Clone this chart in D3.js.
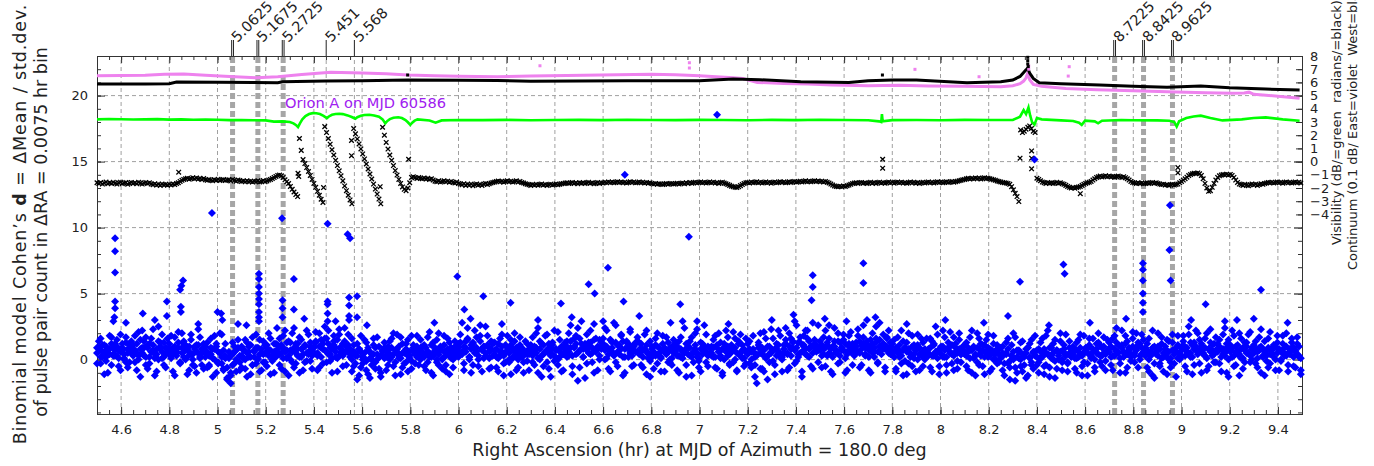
<!DOCTYPE html>
<html><head><meta charset="utf-8">
<script src="https://cdn.jsdelivr.net/npm/d3@7"></script>
<style>
html,body{margin:0;padding:0;background:#fff;}
svg{display:block;font-family:"DejaVu Sans",sans-serif;}
.ax .domain{stroke:#333;}
.ax line{stroke:#333;}
.ax text{fill:#222;font-size:13px;font-family:"DejaVu Sans",sans-serif;}
</style></head><body>
<svg id="chart" width="1374" height="466"></svg>
<script>
// ---- bins: RA = raStart + i * raStep ----
const raStart = 4.5, raStep = 0.0075;

// ---- axis ticks ----
const raTicks = [4.6,4.8,5,5.2,5.4,5.6,5.8,6,6.2,6.4,6.6,6.8,7,7.2,7.4,7.6,7.8,8,8.2,8.4,8.6,8.8,9,9.2,9.4];
const dTicks = [0,5,10,15,20];
const rightTicks = [-4,-3,-2,-1,0,1,2,3,4,5,6,7,8];

// ---- marked RA positions ----
const markRA = [5.0625,5.1675,5.2725,5.451,5.568,8.7225,8.8425,8.9625];
const markLabels = ["5.0625","5.1675","5.2725","5.451","5.568","8.7225","8.8425","8.9625"];
const binMarkRA = [5.0625,5.1675,5.2725,8.7225,8.8425,8.9625];

// ---- continuum (0.1 dB), East = violet ----
const eastRA = [4.5,4.6,4.7,4.78,4.86,4.95,5.05,5.16,5.25,5.35,5.47,5.6,5.7,5.79,5.9,6.0,6.16,6.3,6.45,6.59,6.8,6.9,7.0,7.07,7.14,7.18,7.24,7.35,7.45,7.55,7.7,7.83,7.95,8.1,8.25,8.3,8.33,8.345,8.355,8.362,8.37,8.385,8.42,8.52,8.65,8.8,8.94,9.1,9.21,9.26,9.28,9.3,9.4,9.49];
const eastCont = [6.5,6.52,6.55,6.62,6.63,6.55,6.45,6.35,6.42,6.6,6.76,6.72,6.65,6.56,6.5,6.47,6.43,6.48,6.52,6.56,6.61,6.58,6.5,6.42,6.35,6.3,6.0,5.92,5.88,5.8,5.74,5.78,5.72,5.7,5.68,5.75,5.9,6.1,6.35,6.7,6.2,5.85,5.7,5.54,5.45,5.36,5.29,5.22,5.17,5.2,5.26,5.1,4.95,4.8];
const eastDotRA = [6.338,6.958,6.958,7.894,8.16,8.534,8.53,8.366,8.366];
const eastDotVal = [7.26,7.49,7.09,6.99,6.43,7.19,6.48,7.25,7.0];

// ---- continuum (0.1 dB), West = black ----
const westRA = [4.5,4.7,4.8,4.83,5.0,5.15,5.25,5.27,5.45,5.6,5.79,6.0,6.16,6.3,6.5,6.7,7.0,7.14,7.25,7.42,7.62,7.7,7.8,7.9,8.11,8.25,8.3,8.33,8.345,8.355,8.362,8.37,8.385,8.41,8.5,8.66,8.8,8.94,9.08,9.2,9.35,9.49];
const westCont = [5.88,5.88,5.9,6.03,6.02,6.0,5.98,6.05,6.1,6.12,6.18,6.16,6.15,6.08,6.1,6.12,6.13,6.25,6.2,6.05,6.0,6.12,6.18,6.18,5.98,6.05,6.18,6.45,6.75,6.95,7.1,6.7,6.3,5.98,5.9,5.8,5.7,5.63,5.73,5.6,5.5,5.42];
const westDotRA = [5.789,7.759,8.362,8.362,8.362,8.364];
const westDotVal = [6.56,6.56,7.9,7.65,7.4,7.2];

// ---- visibility amplitude (dB), green ----
const visRA = [4.5,4.55,4.6,4.65,4.7,4.75,4.8,4.85,4.9,4.95,5.0,5.05,5.1,5.15,5.2,5.234,5.27,5.3,5.315,5.325,5.334,5.342,5.352,5.365,5.38,5.395,5.41,5.425,5.44,5.454,5.462,5.475,5.49,5.505,5.52,5.54,5.557,5.572,5.58,5.595,5.61,5.63,5.65,5.67,5.685,5.696,5.703,5.715,5.73,5.75,5.765,5.78,5.79,5.8,5.808,5.818,5.83,5.88,5.905,5.93,6.0,6.1,6.2,6.3,6.4,6.5,6.6,6.7,6.8,6.9,7.0,7.1,7.2,7.3,7.4,7.5,7.6,7.7,7.745,7.754,7.757,7.76,7.8,7.9,8.0,8.1,8.2,8.3,8.33,8.345,8.355,8.365,8.372,8.38,8.39,8.4,8.42,8.5,8.55,8.575,8.586,8.6,8.64,8.654,8.67,8.75,8.8,8.9,8.95,8.97,8.98,8.99,9.02,9.05,9.08,9.12,9.17,9.25,9.3,9.35,9.42,9.49];
const visDB = [3.2,3.23,3.21,3.19,3.2,3.22,3.18,3.2,3.17,3.19,3.17,3.14,3.15,3.13,3.12,3.03,3.05,3.0,2.9,2.78,2.62,2.9,3.2,3.45,3.6,3.67,3.66,3.6,3.47,3.3,3.42,3.55,3.61,3.63,3.6,3.5,3.38,3.25,3.36,3.47,3.53,3.55,3.5,3.4,3.2,2.9,3.05,3.22,3.32,3.36,3.3,3.15,2.98,2.78,2.95,3.1,3.2,3.12,2.95,3.12,3.15,3.14,3.16,3.13,3.15,3.16,3.14,3.17,3.15,3.14,3.16,3.15,3.13,3.16,3.14,3.17,3.15,3.13,3.05,3.0,3.6,3.05,3.14,3.15,3.13,3.16,3.15,3.15,3.4,3.9,3.6,4.1,3.5,3.0,2.8,3.3,3.2,3.12,3.08,2.95,2.78,3.1,3.05,2.9,3.1,3.15,3.13,3.12,3.1,3.0,2.65,3.05,3.3,3.42,3.48,3.3,3.12,3.2,3.3,3.35,3.2,3.1];

// ---- visibility phase (radians) per bin, black ----
const phaseRad = [
-1.6,-1.65,-1.58,-1.7,-1.62,-1.55,-1.68,-1.6,-1.66,-1.57,-1.64,-1.7,-1.6,-1.56,-1.67,-1.62,-1.59,-1.71,-1.63,-1.58,
-1.65,-1.6,-1.68,-1.57,-1.63,-1.7,-1.62,-1.58,-1.66,-1.61,-1.7,-1.75,-1.68,-1.78,-1.72,-1.8,-1.7,-1.76,-1.73,-1.79,
-1.71,-1.77,-1.69,-1.74,-1.66,-1.6,-1.5,-1.42,-1.35,-1.3,-1.26,-1.33,-1.28,-1.22,-1.3,-1.25,-1.32,-1.27,-1.35,-1.29,
-1.38,-1.42,-1.36,-1.4,-1.45,-1.37,-1.41,-1.34,-1.43,-1.39,-1.36,-1.44,-1.4,-1.38,-1.46,-1.35,-1.42,-1.48,-1.4,-1.44,
-1.5,-1.47,-1.53,-1.45,-1.52,-1.49,-1.55,-1.48,-1.51,-1.46,-1.54,-1.5,-1.44,-1.52,-1.47,-1.4,-1.35,-1.28,-1.2,-1.12,
-1.05,-1.02,-1.08,-1.2,-1.38,-1.52,-1.66,-1.88,-2.1,-2.3,-2.5,-2.65,1.75,0.85,0.15,-0.15,-0.45,-0.75,-1.05,-1.35,
-1.65,-1.95,-2.25,-2.55,-2.85,-3.1,2.65,2.2,1.75,1.32,0.9,0.5,0.1,-0.3,-0.7,-1.08,-1.46,-1.84,-2.2,-2.55,
-2.9,-3.2,2.5,2.1,1.72,1.34,0.96,0.58,0.2,-0.18,-0.56,-0.94,-1.32,-1.7,-2.08,-2.46,-2.84,-3.2,2.6,2.0,
1.45,0.95,0.5,0.1,-0.3,-0.68,-1.02,-1.35,-1.65,-1.92,-2.1,-2.2,-2.0,-1.6,-1.2,-1.15,-1.22,-1.28,-1.2,-1.26,
-1.3,-1.24,-1.32,-1.27,-1.35,-1.3,-1.4,-1.48,-1.52,-1.46,-1.55,-1.5,-1.45,-1.53,-1.48,-1.56,-1.5,-1.58,-1.62,-1.55,
-1.65,-1.7,-1.76,-1.68,-1.8,-1.72,-1.78,-1.7,-1.82,-1.75,-1.69,-1.77,-1.73,-1.8,-1.7,-1.66,-1.74,-1.68,-1.62,-1.58,
-1.55,-1.5,-1.47,-1.53,-1.49,-1.56,-1.5,-1.45,-1.52,-1.48,-1.55,-1.51,-1.46,-1.54,-1.5,-1.58,-1.62,-1.68,-1.72,-1.76,
-1.8,-1.74,-1.78,-1.72,-1.79,-1.75,-1.7,-1.77,-1.73,-1.8,-1.76,-1.71,-1.78,-1.74,-1.69,-1.76,-1.72,-1.68,-1.65,-1.62,
-1.6,-1.66,-1.62,-1.58,-1.65,-1.61,-1.67,-1.6,-1.64,-1.59,-1.66,-1.62,-1.57,-1.64,-1.6,-1.68,-1.63,-1.58,-1.65,-1.6,
-1.62,-1.56,-1.6,-1.55,-1.59,-1.54,-1.6,-1.57,-1.52,-1.58,-1.55,-1.6,-1.56,-1.62,-1.57,-1.53,-1.59,-1.55,-1.61,-1.58,
-1.54,-1.6,-1.56,-1.62,-1.58,-1.64,-1.6,-1.66,-1.7,-1.65,-1.72,-1.68,-1.7,-1.74,-1.69,-1.66,-1.72,-1.68,-1.65,-1.7,
-1.67,-1.64,-1.7,-1.66,-1.62,-1.68,-1.6,-1.65,-1.58,-1.63,-1.6,-1.56,-1.62,-1.58,-1.55,-1.6,-1.57,-1.62,-1.58,-1.54,
-1.6,-1.56,-1.62,-1.58,-1.65,-1.6,-1.56,-1.63,-1.68,-1.74,-1.8,-1.86,-1.9,-1.94,-1.96,-1.9,-1.82,-1.74,-1.66,-1.6,
-1.58,-1.62,-1.55,-1.6,-1.57,-1.53,-1.6,-1.56,-1.62,-1.58,-1.54,-1.6,-1.57,-1.63,-1.59,-1.55,-1.61,-1.57,-1.52,-1.58,
-1.55,-1.6,-1.56,-1.52,-1.58,-1.54,-1.5,-1.56,-1.52,-1.48,-1.54,-1.5,-1.46,-1.52,-1.48,-1.53,-1.49,-1.45,-1.51,-1.47,
-1.52,-1.48,-1.54,-1.5,-1.56,-1.62,-1.7,-1.78,-1.84,-1.88,-1.9,-1.86,-1.9,-1.85,-1.88,-1.83,-1.78,-1.72,-1.66,-1.62,
-1.6,-1.65,-1.61,-1.58,-1.64,-1.6,-1.66,-1.62,-1.57,-1.63,-1.59,-1.65,-1.6,-1.56,-1.62,-1.58,-1.64,-1.6,-1.55,-1.61,
-1.57,-1.63,-1.59,-1.55,-1.6,-1.56,-1.62,-1.58,-1.64,-1.6,-1.55,-1.61,-1.57,-1.63,-1.59,-1.65,-1.6,-1.56,-1.62,-1.58,
-1.54,-1.6,-1.56,-1.62,-1.57,-1.53,-1.59,-1.55,-1.6,-1.56,-1.52,-1.58,-1.54,-1.5,-1.56,-1.52,-1.48,-1.45,-1.42,-1.38,
-1.35,-1.3,-1.27,-1.32,-1.26,-1.3,-1.24,-1.29,-1.25,-1.31,-1.27,-1.23,-1.29,-1.26,-1.3,-1.34,-1.38,-1.42,-1.47,-1.5,
-1.54,-1.58,-1.6,-1.62,-1.66,-1.72,-1.9,-2.14,-2.4,-2.65,-3.03,2.4,2.2,2.3,2.45,2.6,2.7,2.5,2.3,2.2,
-1.26,-1.35,-1.45,-1.55,-1.6,-1.65,-1.58,-1.63,-1.6,-1.66,-1.62,-1.57,-1.64,-1.6,-1.68,-1.72,-1.8,-1.88,-1.95,-2.0,
-1.96,-2.02,-1.97,-1.93,-1.88,-1.8,-1.72,-1.65,-1.6,-1.56,-1.5,-1.4,-1.3,-1.2,-1.15,-1.1,-1.16,-1.12,-1.08,-1.14,
-1.1,-1.15,-1.12,-1.18,-1.13,-1.1,-1.16,-1.2,-1.14,-1.22,-1.3,-1.4,-1.5,-1.58,-1.62,-1.66,-1.6,-1.65,-1.62,-1.68,
-1.63,-1.6,-1.66,-1.62,-1.58,-1.64,-1.6,-1.66,-1.7,-1.74,-1.72,-1.78,-1.75,-1.8,-1.76,-1.72,-1.78,-1.74,-1.7,-1.6,
-1.5,-1.4,-1.3,-1.18,-1.06,-0.98,-0.92,-0.88,-0.9,-0.86,-0.92,-1.05,-1.3,-1.65,-2.0,-2.25,-2.2,-1.95,-1.65,-1.4,
-1.2,-1.08,-1.02,-0.98,-1.0,-0.95,-1.02,-0.97,-1.05,-1.2,-1.4,-1.58,-1.7,-1.75,-1.8,-1.72,-1.78,-1.82,-1.75,-1.7,
-1.76,-1.72,-1.8,-1.74,-1.68,-1.72,-1.66,-1.62,-1.58,-1.6,-1.56,-1.62,-1.58,-1.55,-1.6,-1.57,-1.63,-1.59,-1.55,-1.61,
-1.57,-1.62,-1.58,-1.54,-1.6,-1.56,-1.62];
const phaseExtraRA = [4.839,5.334,5.337,5.44,5.556,5.556,5.675,5.793,7.76,7.76,8.33,8.378,8.378,8.378,8.58,8.985,8.985];
const phaseExtraRad = [-0.8,-0.88,-1.13,-1.97,1.6,0.45,-1.9,0.18,0.18,-0.5,0.26,0.81,0.26,-0.55,-2.43,-0.45,-0.85];

// ---- Cohen's d per bin (three pulse-pair sets), blue ----
const cohenD1 = [
0.9,1.4,-0.3,0.6,1.1,0.2,-1.0,0.8,1.7,0.4,1.2,0.3,-0.5,1.9,0.7,0.1,1.3,0.5,-0.2,1.0,
0.6,1.8,-0.8,0.3,1.5,2.2,0.9,-0.4,1.1,0.2,1.6,0.7,-1.2,0.4,2.5,1.0,0.1,1.3,-0.6,0.8,
1.2,0.3,-0.9,1.7,0.5,2.1,-0.2,0.9,1.4,0.0,-1.1,0.6,1.9,0.4,-0.5,1.1,2.3,0.2,0.8,-0.7,
0.5,1.3,-0.4,0.9,0.1,1.8,-1.0,0.6,2.0,-0.3,0.7,1.2,-1.4,0.2,-1.8,0.4,1.0,-0.9,2.7,0.3,
-0.6,0.8,1.5,-1.3,0.2,1.1,-0.4,0.7,1.9,0.0,-0.9,0.5,1.4,-0.2,0.9,2.0,-1.1,0.3,1.2,0.6,
0.4,1.6,-0.7,0.9,2.2,0.1,-1.2,1.3,0.6,2.4,-0.3,0.8,1.7,0.2,-0.8,1.1,0.5,1.9,-0.1,0.7,
1.0,2.1,0.3,-0.6,1.5,0.8,2.5,-0.2,1.2,0.4,-1.0,1.8,0.9,0.1,2.3,0.6,-0.5,1.4,0.7,1.9,
0.2,-0.9,1.1,0.5,-1.5,0.8,1.8,-0.3,0.1,1.3,-1.1,0.6,0.0,1.6,-0.7,0.4,1.0,-1.3,0.3,0.9,
0.6,-0.4,1.4,0.2,2.0,-1.2,0.8,0.3,1.7,-0.6,0.5,1.2,-0.9,0.1,1.8,0.7,-0.3,1.0,0.4,1.5,
0.3,1.1,-0.8,0.6,2.1,0.2,-1.2,0.9,1.5,-0.4,0.7,0.0,1.8,-0.9,0.5,1.3,0.1,-0.6,1.0,0.4,
1.2,0.5,2.8,-0.3,0.9,1.6,0.2,-1.0,1.3,2.2,0.6,-0.5,1.8,0.8,0.1,2.5,1.0,-0.7,1.4,0.3,
0.7,-0.6,1.2,0.3,1.9,-1.2,0.5,0.9,-0.2,1.5,0.1,2.0,-0.8,0.6,1.1,0.2,-1.0,1.4,0.4,0.8,
0.5,1.7,-0.4,0.9,2.4,0.0,-1.3,1.1,0.6,1.9,-0.7,0.3,1.3,-0.1,0.8,2.1,0.2,-0.9,1.0,0.6,
1.4,0.3,2.6,-0.5,1.0,1.8,-1.6,0.7,2.9,0.2,1.2,-0.3,0.9,2.2,0.5,-1.0,1.6,0.8,0.0,1.3,
0.9,2.4,0.1,-0.7,1.5,0.6,2.8,-0.2,1.1,0.4,1.9,-1.2,0.8,1.3,0.2,2.1,-0.5,1.0,0.6,1.7,
0.4,1.2,-0.6,0.8,2.2,0.1,-1.3,1.0,0.5,1.6,-0.3,0.9,0.2,1.8,-0.9,0.6,1.3,0.0,-0.4,1.1,
0.7,-0.8,1.4,0.2,2.9,0.5,-1.3,1.0,0.3,1.7,-0.2,0.8,2.3,0.1,-0.9,1.2,0.6,1.9,-0.5,0.4,
1.0,0.2,1.8,-0.7,0.6,1.3,-1.2,0.9,2.2,0.3,-0.4,1.1,0.7,1.6,-0.9,0.4,1.9,0.1,0.8,-0.3,
0.5,1.4,-0.6,0.8,0.2,-1.8,1.1,2.0,0.4,-0.9,1.6,0.3,-0.2,2.3,0.7,-1.1,1.2,0.5,1.8,0.0,
1.1,2.4,0.4,-0.6,1.6,0.9,2.9,-0.1,1.3,0.5,-1.3,1.8,0.8,2.2,0.2,1.0,-0.7,1.5,0.6,2.6,
0.9,0.3,1.7,-0.5,1.1,2.6,0.4,-1.1,1.4,0.7,2.0,-0.2,0.9,1.5,0.1,-0.8,1.8,0.6,1.2,0.3,
1.3,2.3,0.5,-0.4,1.7,0.9,3.0,0.2,-1.0,1.2,0.6,2.5,-0.3,1.5,0.8,1.9,-0.6,1.0,2.2,0.4,
0.6,1.5,-0.7,0.8,0.2,2.2,-1.2,0.9,1.3,-0.3,0.5,1.8,0.1,-0.9,1.1,0.4,1.6,-0.5,0.7,0.3,
0.8,-0.6,1.4,0.3,2.5,0.6,-1.1,1.0,0.2,1.7,-0.4,0.9,2.1,0.4,-0.8,1.2,0.5,1.5,-0.2,0.7,
0.4,1.3,-0.8,0.7,2.2,0.1,-1.2,0.9,1.6,0.3,-0.5,1.1,0.6,1.9,-0.9,0.5,1.2,0.0,-0.3,0.8,
0.2,1.0,-1.2,0.5,1.6,-0.6,0.3,2.0,-1.6,0.7,0.1,1.3,-0.9,0.4,-1.4,0.9,0.2,1.5,-0.7,0.6,
-0.4,0.8,0.1,1.6,-1.1,0.5,2.2,-0.6,0.3,1.2,-1.4,0.7,0.0,1.4,-0.8,0.5,1.9,-0.2,0.9,0.3,
0.6,-0.7,1.3,0.2,1.9,-1.2,0.5,0.9,-0.3,1.6,0.1,0.8,-0.9,1.2,2.0,0.3,-0.5,1.0,0.4,1.5,
0.8,-0.4,1.6,0.3,2.4,0.6,-1.0,1.1,0.2,1.8,-0.6,0.9,0.4,2.1,-0.2,0.7,1.3,0.0,1.9,0.5,
0.3,1.2,-0.9,0.6,2.2,-1.4,0.4,1.0,-0.5,1.7,0.2,0.8,-1.1,1.4,0.1,1.9,-0.3,0.6,1.1,0.0,
0.9,1.8,-0.5,0.6,2.5,0.2,-1.1,1.3,0.7,2.0,-0.3,1.0,0.4,1.6,-0.8,0.8,2.3,0.3,1.2,-0.2,
0.7,1.5,-0.9,0.4,2.4,0.9,-1.3,1.1,0.2,1.8,-0.4,0.6,2.0,0.1,-0.7,1.3,0.5,1.9,-0.2,0.8,
0.5,1.4,-0.6,0.9,2.3,0.2,-1.2,0.7,1.6,-0.3,0.4,1.1,0.0,1.8,-0.8,0.6,1.2,0.3,2.0,-0.4,
0.8,1.3,-0.5,0.6,1.7,0.2,-1.1];
const cohenD2 = [
-0.3,0.8,1.6,0.2,-1.1,1.0,0.5,1.8,-0.4,0.9,0.3,1.5,0.7,-0.8,1.2,0.0,1.7,-0.6,0.6,1.4,
1.1,-0.2,0.5,2.1,-1.3,0.9,0.3,1.7,-0.7,1.2,0.6,2.3,0.1,-0.9,1.4,0.8,1.9,-0.4,0.5,1.6,
0.4,1.8,0.9,-1.2,0.6,1.3,-0.3,2.0,0.2,1.1,0.7,-0.8,1.5,0.0,1.0,-1.0,0.5,1.7,-0.4,1.2,
1.0,-0.6,0.3,1.6,-1.3,0.8,1.2,-0.2,0.5,1.9,-0.7,0.1,-1.5,0.6,-1.0,1.3,-0.3,0.7,1.5,-0.8,
1.0,0.1,-0.7,1.3,0.6,-1.1,1.7,0.2,-0.3,0.9,1.5,-0.8,0.4,1.1,-0.5,0.7,1.6,0.0,-1.0,1.2,
1.1,-0.4,0.5,1.8,-0.9,0.7,1.4,0.0,2.0,-0.6,1.2,0.3,-1.0,1.5,0.9,-0.2,2.2,0.4,1.0,-0.7,
0.5,1.3,-0.8,2.0,0.9,-0.3,1.6,0.6,2.2,-0.1,0.8,1.4,0.2,-0.9,1.9,1.0,0.3,2.4,-0.4,1.1,
0.8,1.6,-0.5,0.3,1.2,-1.2,0.6,0.0,1.5,-0.8,0.9,-1.4,0.4,1.1,-0.2,1.7,0.2,-1.0,0.7,1.3,
-0.8,1.0,0.4,1.6,-0.5,0.7,1.9,0.1,-1.1,1.2,0.6,-0.2,1.5,0.3,-0.7,1.1,0.5,1.8,-0.4,0.9,
1.0,-0.5,0.4,1.7,0.2,-1.0,1.3,0.6,-0.2,2.0,0.8,-0.7,1.1,0.3,1.6,-1.1,0.7,0.0,1.4,0.5,
0.2,1.9,0.6,-0.8,1.4,2.4,0.0,1.1,-0.4,0.8,1.7,0.3,2.6,-0.9,1.0,0.5,1.8,0.1,-0.6,1.3,
1.3,0.2,-0.9,1.6,0.6,-0.3,1.1,1.8,0.0,-1.1,0.8,1.4,0.3,-0.6,1.7,0.9,-0.2,0.5,1.2,-0.8,
1.1,-0.2,0.7,2.0,-1.0,1.4,0.3,-0.5,1.8,0.6,1.2,-1.3,0.8,2.2,0.1,-0.4,1.5,0.9,-0.8,1.3,
0.2,2.0,0.9,-1.1,1.6,0.4,2.4,-0.6,1.2,0.8,-1.4,1.9,0.5,1.3,-0.2,2.7,0.7,-0.8,1.5,1.0,
1.6,0.0,2.2,0.7,-0.9,1.3,0.4,2.6,-0.5,1.0,1.8,0.2,-1.0,1.4,0.8,2.3,0.3,-0.4,1.2,0.6,
1.3,-0.4,0.7,1.9,-1.1,0.5,1.4,0.2,-0.7,1.1,2.0,0.3,-0.9,1.2,0.6,1.7,-0.2,0.9,0.1,1.5,
1.2,0.3,-1.0,1.7,0.6,2.4,-0.4,0.9,1.4,-1.2,0.5,2.0,0.2,-0.6,1.3,0.8,2.6,-0.2,1.0,0.5,
0.3,1.5,-0.6,0.9,2.0,0.1,-1.0,1.2,0.6,1.7,-0.3,0.8,2.1,0.0,-0.8,1.4,0.5,1.1,-0.5,1.6,
1.2,-0.3,0.6,1.8,-1.3,0.4,1.3,-0.7,0.9,2.1,0.1,-1.5,1.0,0.5,1.6,-0.4,0.8,2.2,0.2,-0.9,
0.5,1.5,-0.8,2.0,0.8,1.3,-0.3,2.6,0.4,1.7,-0.9,1.0,2.2,0.3,1.4,-0.5,2.8,0.9,1.1,-0.2,
1.4,-0.6,0.8,2.2,0.3,1.6,-0.9,1.0,2.4,0.5,-0.3,1.3,0.7,1.9,-1.0,0.6,1.2,2.1,-0.4,0.9,
0.6,1.8,-0.6,1.1,2.6,0.4,1.4,-0.8,0.9,2.0,0.2,1.6,-0.2,2.8,0.7,1.2,-0.9,1.7,0.5,1.3,
1.2,0.2,-0.9,1.7,0.6,-0.3,1.4,0.9,-1.1,2.0,0.4,-0.5,1.1,0.7,1.9,-0.8,0.3,1.3,0.0,1.6,
0.3,1.6,-0.9,1.1,0.5,1.9,-0.5,0.8,2.2,0.2,-1.0,1.3,0.6,-0.3,1.7,0.9,-0.7,2.0,0.4,1.0,
1.1,-0.5,0.6,1.7,-1.0,0.9,0.3,2.0,-0.4,1.2,0.7,-1.1,1.5,0.2,0.8,-0.7,1.8,0.4,1.1,-0.2,
0.9,-0.8,0.4,1.3,-0.3,-1.5,1.1,0.0,1.7,-1.0,0.6,-0.5,1.4,0.2,0.8,-1.2,1.2,-0.4,0.5,1.8,
0.7,-1.0,1.3,0.2,-0.5,1.8,0.4,-1.3,0.9,0.0,1.5,-0.7,0.6,2.0,-0.2,1.1,0.3,-0.9,1.4,0.5,
1.0,0.1,-1.0,1.5,0.4,-0.5,1.8,0.7,-1.2,1.1,0.3,1.6,-0.6,0.5,1.3,-0.2,0.9,1.7,-0.8,0.6,
1.3,0.2,-0.8,1.8,0.6,1.1,-0.3,2.2,0.5,-1.0,1.4,0.8,-0.1,1.6,0.3,2.0,-0.6,1.2,0.4,1.5,
0.9,-0.6,1.6,0.3,-1.2,1.0,0.6,2.0,-0.3,1.2,-0.9,0.5,1.5,0.0,-0.6,1.3,0.7,-1.3,1.8,0.4,
0.2,1.4,0.8,-0.9,1.9,0.5,1.1,-0.4,2.2,0.6,1.5,-1.0,0.9,0.3,2.0,-0.5,1.3,0.7,-0.2,1.7,
1.2,-0.3,0.8,1.9,0.3,-1.0,1.5,0.6,2.2,-0.5,1.0,0.4,-1.2,1.6,0.9,-0.2,1.3,0.5,2.1,0.0,
1.1,-0.3,0.6,1.7,-1.0,0.8,1.4,0.3,-0.6,2.1,0.5,1.0,-0.8,1.3,0.7,-0.1,1.8,0.4,1.0,-0.9,
0.4,1.6,0.9,-0.6,1.2,0.3,-0.8];
const cohenD3 = [
0.5,0.9,0.2,1.1,0.6,-0.1,0.8,0.4,1.2,0.3,0.7,1.0,0.1,0.6,0.9,0.4,-0.2,0.8,1.1,0.5,
0.3,0.7,1.2,0.0,0.8,0.5,1.4,0.2,0.9,-0.3,0.6,1.1,0.4,0.8,0.0,1.3,0.6,0.2,0.9,0.5,
0.8,0.1,0.6,1.0,0.3,0.9,-0.2,0.5,1.2,0.7,0.2,1.0,0.4,-0.4,0.8,0.6,1.1,0.1,0.5,0.9,
0.2,0.6,-0.5,0.4,0.8,0.0,1.0,-0.3,0.5,0.2,-0.8,0.3,-0.6,0.1,-1.2,-0.4,0.6,0.0,0.9,-0.2,
0.3,0.7,0.0,0.5,1.0,0.2,-0.4,0.6,0.9,0.1,0.4,0.8,-0.2,0.5,1.1,0.3,0.7,-0.1,0.6,0.2,
0.8,0.4,1.1,0.1,0.6,1.3,0.3,0.7,-0.2,0.9,0.5,1.2,0.2,0.8,0.4,1.0,-0.1,0.6,1.3,0.3,
0.9,1.4,0.5,1.0,0.2,1.2,0.7,1.6,0.4,0.9,0.1,1.1,0.6,1.5,0.3,0.8,1.2,0.5,1.0,0.7,
0.4,0.0,0.6,-0.3,0.3,0.8,-0.6,0.2,0.5,-0.1,0.7,0.1,-0.4,0.4,0.9,0.0,-0.7,0.3,0.6,0.1,
0.2,0.7,0.0,0.9,0.4,-0.2,0.6,1.0,0.1,0.5,-0.3,0.8,0.3,0.6,-0.1,0.9,0.4,0.2,0.7,0.0,
0.6,0.2,0.9,-0.2,0.5,1.1,0.3,0.7,0.0,0.4,1.0,0.1,0.6,-0.4,0.8,0.3,0.9,0.5,0.2,0.7,
0.9,1.3,0.4,1.0,0.6,1.5,0.2,0.8,1.2,0.5,0.9,0.0,1.4,0.7,1.0,0.3,1.1,0.6,0.8,1.2,
0.4,0.8,0.1,0.6,1.0,0.3,-0.2,0.7,0.5,1.1,0.2,0.6,0.9,0.0,0.5,0.8,0.3,0.6,-0.1,0.4,
0.7,0.3,1.0,0.5,0.1,0.8,1.2,0.4,0.6,-0.2,0.9,0.5,1.1,0.3,0.7,0.0,0.6,1.0,0.4,0.8,
1.0,0.6,1.4,0.3,0.9,1.2,0.5,1.6,0.8,0.2,1.1,0.7,1.3,0.4,0.9,1.5,0.6,1.0,0.3,0.8,
1.2,0.7,1.0,0.4,1.5,0.9,0.3,1.3,0.6,1.1,0.8,1.4,0.2,0.9,1.2,0.5,1.0,0.7,1.3,0.6,
0.5,0.9,0.2,0.7,1.1,0.4,-0.1,0.8,0.6,0.3,1.0,0.5,0.1,0.7,0.9,0.4,0.6,-0.2,0.8,0.5,
0.6,1.0,0.3,0.8,0.1,0.7,1.2,0.4,0.9,0.2,0.6,1.1,0.5,-0.1,0.8,0.4,1.0,0.6,0.3,0.9,
0.5,0.9,0.2,1.1,0.6,0.3,0.8,0.0,0.7,1.0,0.4,0.6,-0.2,0.9,0.5,1.2,0.3,0.7,0.1,0.6,
0.4,0.8,0.0,0.6,-0.4,0.3,0.9,0.5,-0.7,0.7,0.2,1.0,0.4,0.6,-0.1,0.8,0.3,1.1,0.5,0.2,
0.8,1.2,0.5,1.0,0.3,1.4,0.7,0.9,0.2,1.3,0.6,1.1,0.4,1.6,0.8,1.0,0.5,1.2,0.9,0.7,
0.7,1.1,0.4,0.9,1.3,0.5,0.8,0.2,1.0,0.6,1.4,0.3,0.9,0.7,1.2,0.4,1.0,0.6,0.8,1.1,
1.0,0.6,1.4,0.8,1.2,0.3,1.1,0.7,1.5,0.5,0.9,1.3,0.6,1.0,0.4,1.2,0.8,1.6,0.7,1.0,
0.6,0.2,0.9,0.5,1.1,0.3,0.7,-0.1,0.6,0.8,0.2,1.0,0.4,0.7,0.0,0.9,0.5,0.3,0.8,0.4,
0.5,0.9,0.3,1.2,0.6,0.1,0.8,0.4,1.0,0.7,0.2,0.9,0.5,1.1,0.3,0.6,-0.1,0.8,0.4,0.7,
0.6,0.3,0.9,0.1,0.7,1.0,0.4,-0.2,0.8,0.5,1.1,0.2,0.6,0.9,0.3,0.7,0.0,0.5,0.8,0.4,
0.1,0.5,-0.3,0.4,0.8,-0.1,0.3,0.6,-0.6,0.2,0.7,0.0,0.4,-0.4,0.5,0.9,0.1,-0.2,0.6,0.3,
0.2,-0.2,0.6,0.3,0.8,-0.4,0.4,0.9,0.1,0.5,-0.1,0.7,0.3,0.6,0.0,0.8,0.4,-0.3,0.5,0.2,
0.4,0.8,0.1,0.6,0.9,0.3,-0.2,0.7,0.5,1.0,0.2,0.6,0.0,0.8,0.4,1.1,0.3,0.5,-0.1,0.7,
0.6,1.0,0.3,0.8,1.3,0.5,0.1,0.9,0.6,1.2,0.4,0.7,0.2,1.0,0.5,0.8,1.1,0.3,0.9,0.6,
0.4,0.7,0.0,0.5,0.9,-0.3,0.6,0.3,0.8,0.1,0.5,1.0,0.2,0.6,-0.2,0.7,0.4,0.9,0.1,0.5,
0.7,1.1,0.3,0.9,0.5,1.3,0.2,0.8,1.0,0.4,0.7,1.2,0.5,0.9,0.1,0.8,0.6,1.1,0.4,0.7,
0.6,1.0,0.2,0.8,0.5,1.2,0.0,0.7,0.9,0.3,0.6,1.1,0.4,0.8,0.1,0.7,1.0,0.5,0.3,0.9,
0.5,0.8,0.1,0.7,1.0,0.3,0.6,-0.1,0.9,0.4,0.7,0.2,1.0,0.5,0.8,0.0,0.6,0.9,0.3,0.5,
0.6,0.9,0.2,0.7,0.4,1.0,0.1];
// high-d bins
const peakRA = [4.575,4.575,4.575,4.575,4.575,4.572,4.568,4.69,4.79,4.79,4.845,4.85,4.857,4.848,4.848,4.977,5.0,5.015,5.02,
5.172,5.172,5.172,5.172,5.172,5.172,5.172,5.172,5.172,5.247,5.268,5.27,5.27,5.27,5.317,5.317,
5.457,5.457,5.457,5.457,5.457,5.54,5.55,5.546,5.546,5.546,5.546,5.579,5.579,
5.995,6.024,6.103,6.216,6.425,6.54,6.565,6.62,6.685,6.69,6.92,6.956,7.073,
7.47,7.47,7.465,7.68,7.68,8.28,8.33,8.39,8.51,8.515,
8.84,8.84,8.84,8.84,8.84,8.84,8.952,8.95,8.955,9.1,9.23,9.33,
4.62,4.74,4.92,5.12,5.36,5.49,5.62,5.9,6.05,6.18,6.33,6.47,6.6,6.75,6.88,6.99,7.12,7.3,7.39,7.52,7.61,7.73,7.86,8.02,8.18,8.45,8.62,8.77,9.04,9.18,9.3,9.44];
const peakD = [9.2,8.2,6.6,4.4,3.9,3.2,2.9,3.5,4.4,3.3,5.3,5.6,6.0,4.0,3.6,11.1,3.6,3.5,3.0,
6.5,6.1,5.5,5.0,4.6,4.2,3.6,3.2,2.9,2.4,10.7,4.5,3.9,3.2,6.1,3.8,
10.3,4.4,4.2,3.5,2.9,9.5,9.2,4.7,4.1,3.3,3.0,4.8,3.2,
6.3,3.8,4.8,4.3,4.25,5.7,5.0,6.95,4.4,14.0,4.2,9.3,18.55,
6.4,5.5,4.5,7.3,5.8,3.3,5.9,15.15,7.2,6.5,
7.3,6.8,6.0,5.0,4.3,3.6,11.7,8.3,6.0,4.2,3.0,5.3,
2.8,3.0,2.7,2.6,3.1,2.9,2.6,2.8,3.1,2.7,3.0,3.2,2.9,3.3,2.8,2.9,2.7,3.0,3.4,3.1,2.9,3.2,2.7,3.0,2.8,2.6,2.8,3.1,3.0,2.9,3.1,2.8];

// ---------------- drawing ----------------
const svg = d3.select("#chart");
const P = {left:97, right:1302, top:56, bottom:414};
const x = d3.scaleLinear().domain([4.5, 9.5]).range([P.left, P.right]);
const y = d3.scaleLinear().domain([-4.12, 23]).range([P.bottom, P.top]);
const y2 = d3.scaleLinear().domain([-19.12, 8]).range([P.bottom, P.top]);
const binRA = i => raStart + i * raStep;

const grid = svg.append("g").attr("stroke", "#a0a0a0").attr("stroke-width", 1).attr("stroke-dasharray", "4,3");
grid.selectAll(".gx").data(raTicks.concat([5.451, 5.568])).join("line")
  .attr("x1", d => x(d)).attr("x2", d => x(d)).attr("y1", P.bottom).attr("y2", P.top);
grid.selectAll(".gy").data(dTicks).join("line")
  .attr("x1", P.left).attr("x2", P.right).attr("y1", d => y(d)).attr("y2", d => y(d));

// wide dashed bands at bin-aligned marks
svg.append("g").selectAll("line").data(binMarkRA).join("line")
  .attr("x1", d => x(d)).attr("x2", d => x(d)).attr("y1", P.bottom).attr("y2", P.top)
  .attr("stroke", "#a6a6a6").attr("stroke-width", 5).attr("stroke-dasharray", "6,3");

// axes
const minorRA = d3.range(0, 101).map(i => 4.5 + i * 0.05);
const minorD = d3.range(-4, 24);
function styleAxis(g) { g.attr("class", "ax"); }
svg.append("g").attr("transform", `translate(0,${P.bottom})`).call(d3.axisBottom(x).tickValues(minorRA).tickSize(-4).tickFormat("")).call(styleAxis);
svg.append("g").attr("transform", `translate(0,${P.bottom})`).call(d3.axisBottom(x).tickValues(raTicks).tickSize(-7).tickPadding(11).tickFormat(d3.format("~g"))).call(styleAxis);
svg.append("g").attr("transform", `translate(0,${P.top})`).call(d3.axisTop(x).tickValues(minorRA).tickSize(-4).tickFormat("")).call(styleAxis);
svg.append("g").attr("transform", `translate(0,${P.top})`).call(d3.axisTop(x).tickValues(raTicks).tickSize(-7).tickFormat("")).call(styleAxis);
svg.append("g").attr("transform", `translate(${P.left},0)`).call(d3.axisLeft(y).tickValues(minorD).tickSize(-4).tickFormat("")).call(styleAxis);
svg.append("g").attr("transform", `translate(${P.left},0)`).call(d3.axisLeft(y).tickValues(dTicks).tickSize(-8).tickPadding(9)).call(styleAxis);
svg.append("g").attr("transform", `translate(${P.right},0)`).call(d3.axisRight(y).tickValues(minorD).tickSize(-4).tickFormat("")).call(styleAxis);
svg.append("g").attr("transform", `translate(${P.right},0)`).call(d3.axisRight(y).tickValues(dTicks).tickSize(-8).tickFormat("")).call(styleAxis);
svg.append("g").attr("transform", `translate(${P.right},0)`).call(d3.axisRight(y2).tickValues(rightTicks).tickSize(-6).tickPadding(8)).call(styleAxis);

// marked RA ticks above the frame
const marks = svg.append("g");
markRA.forEach((m, k) => {
  const offs = binMarkRA.includes(m) ? [-0.00375, 0.00375] : [0];
  offs.forEach(o => marks.append("line")
    .attr("x1", x(m + o)).attr("x2", x(m + o)).attr("y1", 40).attr("y2", P.top)
    .attr("stroke", "#222").attr("stroke-width", 1));
  marks.append("text").attr("transform", `translate(${x(m) + 5},43) rotate(-45)`)
    .attr("font-size", 14.5).attr("fill", "#222").text(markLabels[k]);
});

// continuum lines
const lineGen = (ys) => d3.line().x(d => x(d[0])).y(d => ys(d[1]));
svg.append("path").datum(d3.zip(eastRA, eastCont)).attr("d", lineGen(y2))
  .attr("fill", "none").attr("stroke", "#ee82ee").attr("stroke-width", 3);
svg.append("path").datum(d3.zip(westRA, westCont)).attr("d", lineGen(y2))
  .attr("fill", "none").attr("stroke", "#000").attr("stroke-width", 3);
svg.append("g").selectAll("rect").data(d3.zip(eastDotRA, eastDotVal)).join("rect")
  .attr("x", d => x(d[0]) - 1.5).attr("y", d => y2(d[1]) - 1.5).attr("width", 3).attr("height", 3).attr("fill", "#ee82ee");
svg.append("g").selectAll("rect").data(d3.zip(westDotRA, westDotVal)).join("rect")
  .attr("x", d => x(d[0]) - 1.5).attr("y", d => y2(d[1]) - 1.5).attr("width", 3).attr("height", 3).attr("fill", "#000");

// visibility amplitude
svg.append("path").datum(d3.zip(visRA, visDB)).attr("d", lineGen(y2))
  .attr("fill", "none").attr("stroke", "#00ff00").attr("stroke-width", 2.6);

// visibility phase
const phasePts = phaseRad.map((v, i) => [binRA(i), v]).concat(d3.zip(phaseExtraRA, phaseExtraRad));
svg.append("g").selectAll("path").data(phasePts).join("path")
  .attr("transform", d => `translate(${x(d[0])},${y2(d[1])})`)
  .attr("d", "M-2.3,-2.3L2.3,2.3M-2.3,2.3L2.3,-2.3").attr("stroke", "#000").attr("stroke-width", 1.3).attr("fill", "none");

// title
svg.append("text").attr("x", 285).attr("y", 108).attr("font-size", 14.6).attr("fill", "#a020f0").text("Orion A on MJD 60586");

// Cohen's d
const dPts = [cohenD1, cohenD2, cohenD3].flatMap(arr => arr.map((v, i) => [binRA(i), v]))
  .concat(d3.zip(peakRA, peakD));
const dia = "M0,-4L4,0L0,4L-4,0Z";
svg.append("g").selectAll("path").data(dPts).join("path")
  .attr("transform", d => `translate(${x(d[0])},${y(d[1])})`)
  .attr("d", dia).attr("fill", "#0000ff");

// axis titles
svg.append("text").attr("x", (P.left + P.right) / 2).attr("y", 456).attr("text-anchor", "middle")
  .attr("font-size", 17.5).attr("fill", "#222").text("Right Ascension (hr) at MJD of Azimuth = 180.0 deg");
const yl1 = svg.append("text").attr("transform", "translate(26,224) rotate(-90)").attr("text-anchor", "middle")
  .attr("font-size", 17.5).attr("letter-spacing", 0.9).attr("fill", "#222");
yl1.append("tspan").text("Binomial model Cohen\u2019s ");
yl1.append("tspan").attr("font-weight", "bold").text("d");
yl1.append("tspan").text(" = \u0394Mean / std.dev.");
svg.append("text").attr("transform", "translate(47,232) rotate(-90)").attr("text-anchor", "middle")
  .attr("font-size", 17.5).attr("fill", "#222").text("of pulse pair count in \u0394RA = 0.0075 hr bin");
svg.append("text").attr("transform", "translate(1341,245) rotate(-90)").attr("text-anchor", "start")
  .attr("font-size", 13).attr("fill", "#222").style("white-space", "pre").text("Visibility (dB/=green  radians/=black)");
svg.append("text").attr("transform", "translate(1357,270) rotate(-90)").attr("text-anchor", "start")
  .attr("font-size", 13).attr("fill", "#222").style("white-space", "pre").text("Continuum (0.1 dB/ East=violet  West=black)");
</script>
</body></html>
